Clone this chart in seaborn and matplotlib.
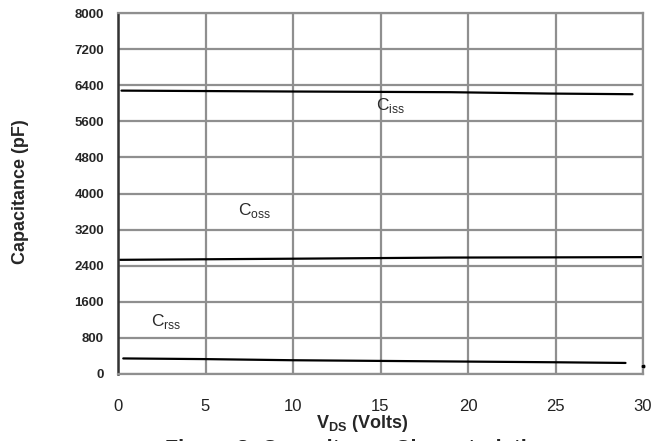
import numpy as np
import pandas as pd
import matplotlib
matplotlib.use("Agg")
import matplotlib.pyplot as plt
import seaborn as sns

# Capacitance vs drain-source voltage
ciss_v = [0.2, 10.0, 19.0, 24.6, 29.4]
ciss_c = [6280, 6260, 6245, 6215, 6200]
coss_v = [0.1, 10.0, 18.9, 25.0, 30.0]
coss_c = [2530, 2555, 2580, 2585, 2590]
crss_v = [0.3, 5.0, 10.0, 15.0, 20.0, 25.0, 29.0]
crss_c = [345, 330, 305, 290, 275, 260, 245]
end_point_v = [30.0]
end_point_c = [185]

x_ticks = [0, 5, 10, 15, 20, 25, 30]
y_ticks = [0, 800, 1600, 2400, 3200, 4000, 4800, 5600, 6400, 7200, 8000]

series_labels = {"Ciss": r"C$_{\mathrm{iss}}$", "Coss": r"C$_{\mathrm{oss}}$", "Crss": r"C$_{\mathrm{rss}}$"}
label_pos = {"Ciss": (15.6, 5940), "Coss": (7.8, 3630), "Crss": (2.75, 1170)}

df = pd.concat([
    pd.DataFrame({"V": ciss_v, "C": ciss_c, "series": "Ciss"}),
    pd.DataFrame({"V": coss_v, "C": coss_c, "series": "Coss"}),
    pd.DataFrame({"V": crss_v, "C": crss_c, "series": "Crss"}),
])

sns.set_theme(style="white")
plt.rcParams["font.family"] = ["Liberation Sans", "DejaVu Sans"]
plt.rcParams["mathtext.fontset"] = "custom"
plt.rcParams["mathtext.rm"] = "Liberation Sans"
plt.rcParams["mathtext.bf"] = "Liberation Sans:bold"

fig = plt.figure(figsize=(6.70, 4.41), dpi=100)
ax = fig.add_axes([118 / 670, 1 - 374 / 441, 525 / 670, 361 / 441])

grid_col = "#8f8f8f"
ax.set_xlim(0, 30)
ax.set_ylim(0, 8000)
ax.set_xticks(x_ticks)
ax.set_yticks(y_ticks)
ax.grid(True, color=grid_col, linewidth=1.6)
ax.set_axisbelow(True)

sns.lineplot(data=df, x="V", y="C", hue="series", units="series", estimator=None,
             palette={"Ciss": "black", "Coss": "black", "Crss": "black"},
             linewidth=1.6, legend=False, sort=False, ax=ax)
sns.scatterplot(x=end_point_v, y=end_point_c, color="black", s=10, ax=ax, clip_on=False,
                zorder=5)

for key, (xv, yv) in label_pos.items():
    ax.text(xv, yv, series_labels[key], fontsize=12.5, ha="center", va="center", color="#2a2a2a")

for name, sp in ax.spines.items():
    sp.set_color(grid_col)
    sp.set_linewidth(1.6)
ax.spines["left"].set_color("#333333")
ax.spines["left"].set_linewidth(1.8)

ax.tick_params(axis="y", length=0, pad=10, labelsize=9.5)
ax.tick_params(axis="x", length=0, pad=18, labelsize=12, labelcolor="#222222")
for lab in ax.get_yticklabels():
    lab.set_fontweight("bold")
ax.set_xlabel("")
ax.set_ylabel("")

fig.text(362 / 670, 1 - 424 / 441, r"V$_{\mathbf{DS}}$ (Volts)", fontsize=13, fontweight="bold",
         ha="center", va="center")
fig.text(21 / 670, 1 - 192 / 441, "Capacitance (pF)", fontsize=13, fontweight="bold",
         rotation=90, ha="center", va="center")
fig.text(358 / 670, 1 - 438.5 / 441, "Figure 8: Capacitance Characteristics", fontsize=15.5,
         fontweight="bold", ha="center", va="top")

fig.savefig("out.png", dpi=100)
